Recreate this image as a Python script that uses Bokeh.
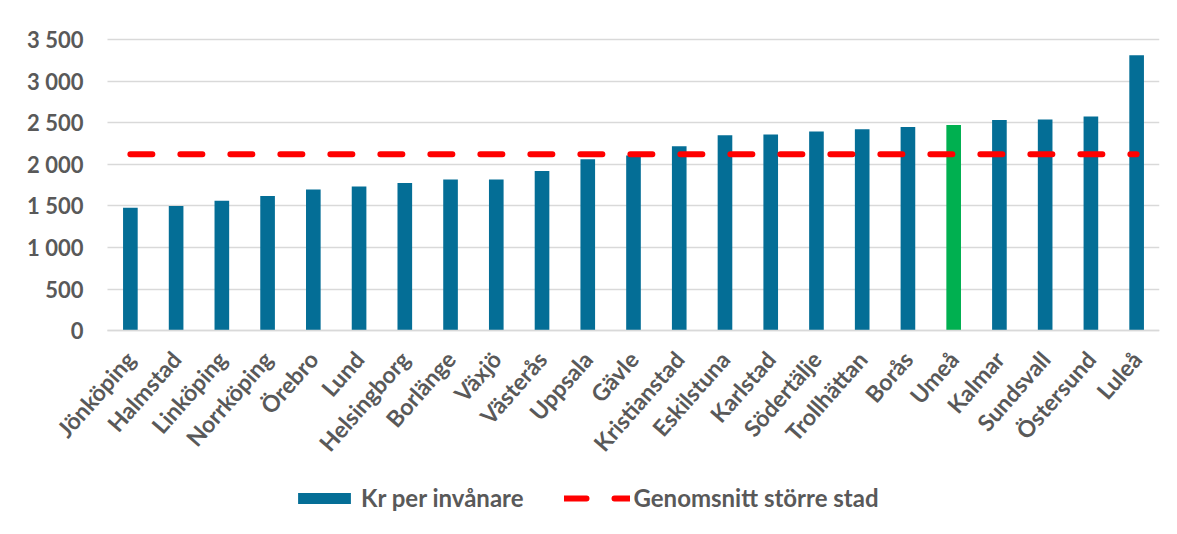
from bokeh.plotting import figure
from bokeh.models import (ColumnDataSource, Range1d, FixedTicker, Legend, LegendItem)
from bokeh.embed import file_html
from bokeh.resources import INLINE

# ---- data ----
cities = ["Jönköping", "Halmstad", "Linköping", "Norrköping", "Örebro", "Lund",
          "Helsingborg", "Borlänge", "Växjö", "Västerås", "Uppsala", "Gävle",
          "Kristianstad", "Eskilstuna", "Karlstad", "Södertälje", "Trollhättan",
          "Borås", "Umeå", "Kalmar", "Sundsvall", "Östersund", "Luleå"]
kr_per_invanare = [1477, 1498, 1562, 1618, 1698, 1734, 1774, 1818, 1818, 1918,
                   2062, 2107, 2218, 2350, 2358, 2394, 2422, 2447, 2471, 2531,
                   2539, 2575, 3311]
highlight_city = "Umeå"
genomsnitt_storre_stad = 2120
y_ticks = [0, 500, 1000, 1500, 2000, 2500, 3000, 3500]
y_tick_labels = ["0", "500", "1 000", "1 500", "2 000", "2 500", "3 000", "3 500"]

# ---- style ----
BLUE = "#046E96"
GREEN = "#00B050"
RED = "#FF0000"
GRID = "#D9D9D9"
TEXT = "#595959"
FONT = "Lato"

# layout (pixels): value area 1052 x 291 px; the frame extends left, up and
# down so that tick labels, rotated category labels and legend are not clipped
VALUE_W, VALUE_H = 1052, 291.2
LEFT_PX, FRAME_W = 107, 1159
TOP_PX, BOTTOM_PX = 29, 198.8
FRAME_H = 519
n = len(cities)
positions = list(range(n))
unit_px = VALUE_W / n
x_lo, x_hi = -0.5, n - 0.5
x_start = x_lo - LEFT_PX / unit_px
y_max = 3500
y_top = y_max + TOP_PX * y_max / VALUE_H
y_min = -BOTTOM_PX * y_max / VALUE_H

colors = [GREEN if c == highlight_city else BLUE for c in cities]
src = ColumnDataSource(dict(x=positions, value=kr_per_invanare, color=colors,
                            avg=[genomsnitt_storre_stad] * n))

p = figure(x_range=Range1d(x_start, x_hi), y_range=Range1d(y_min, y_top),
           x_axis_type="linear",
           frame_width=FRAME_W, frame_height=FRAME_H,
           min_border_left=0, min_border_right=14,
           min_border_top=10, min_border_bottom=4,
           output_backend="svg", toolbar_location=None)
p.outline_line_color = None
p.background_fill_color = "white"
p.border_fill_color = "white"

bars = p.vbar(x="x", top="value", bottom=0, width=0.32, source=src,
              fill_color="color", line_color=None)
avg_line = p.line(x="x", y="avg", source=src, line_color=RED, line_width=6,
                  line_dash="22 28", line_cap="round")

# y axis + grid
yticker = FixedTicker(ticks=y_ticks)
p.xgrid.grid_line_color = None
p.ygrid.ticker = yticker
p.ygrid.grid_line_color = GRID
p.ygrid.grid_line_width = 1.5
try:
    p.ygrid.cross_bounds = (x_lo, x_hi)
except AttributeError:
    p.ygrid.grid_line_color = None
    p.segment(x0=[x_lo] * len(y_ticks), x1=[x_hi] * len(y_ticks),
              y0=y_ticks, y1=y_ticks, line_color=GRID, line_width=1.5,
              level="underlay")
p.yaxis.ticker = yticker
p.yaxis.fixed_location = x_lo
p.yaxis.major_label_overrides = {t: l for t, l in zip(y_ticks, y_tick_labels)}
p.yaxis.axis_line_color = None
p.yaxis.major_tick_line_color = None
p.yaxis.minor_tick_line_color = None
p.yaxis.major_tick_out = 0
p.yaxis.major_tick_in = 0
p.yaxis.major_label_standoff = 24
p.yaxis.major_label_text_font_size = "22px"

# x axis (category names)
p.xaxis.ticker = FixedTicker(ticks=positions)
p.xaxis.major_label_overrides = {i: c for i, c in zip(positions, cities)}
p.xaxis.fixed_location = 0
p.xaxis.bounds = (x_lo, x_hi)
p.xaxis.axis_line_color = GRID
p.xaxis.axis_line_width = 1.5
p.xaxis.major_tick_line_color = None
p.xaxis.minor_tick_line_color = None
p.xaxis.major_tick_out = 0
p.xaxis.major_tick_in = 0
p.xaxis.major_label_standoff = 24
p.xaxis.major_label_orientation = 0.85
p.xaxis.major_label_text_font_size = "23px"

for ax in (p.xaxis[0], p.yaxis[0]):
    ax.major_label_text_font = FONT
    ax.major_label_text_font_style = "bold"
    ax.major_label_text_color = TEXT

legend = Legend(items=[LegendItem(label="Kr per invånare", renderers=[bars], index=0),
                       LegendItem(label="Genomsnitt större stad", renderers=[avg_line])],
                orientation="horizontal", location=(291, 17),
                glyph_width=66, glyph_height=14, label_standoff=4, spacing=40,
                padding=0, margin=0, border_line_color=None,
                background_fill_alpha=0,
                label_text_font=FONT, label_text_font_style="bold",
                label_text_font_size="24px", label_text_color=TEXT,
                label_height=26)
p.add_layout(legend)

open("out.html", "w").write(file_html(p, INLINE))
